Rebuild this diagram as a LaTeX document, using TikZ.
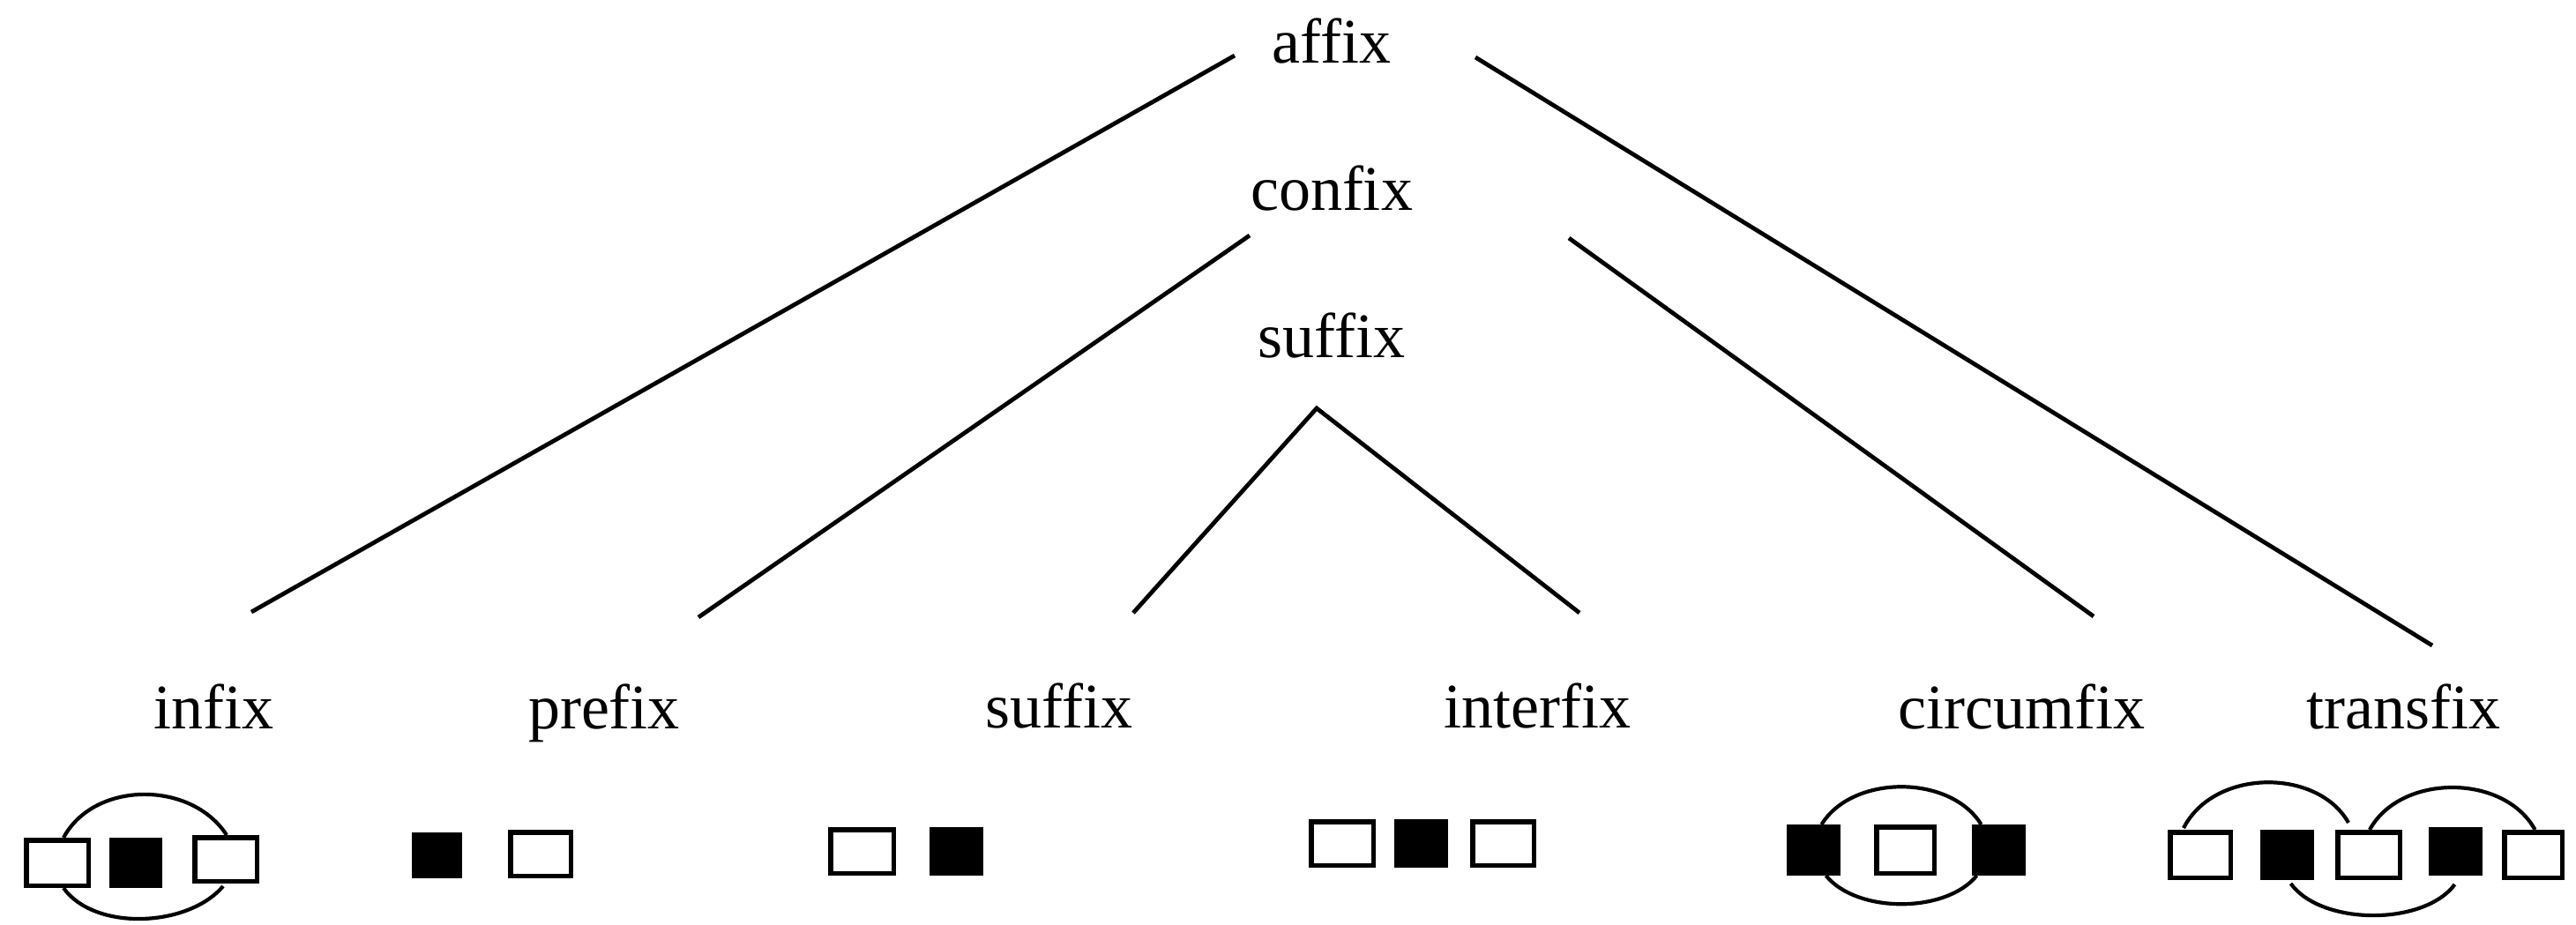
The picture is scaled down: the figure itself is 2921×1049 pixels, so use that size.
\documentclass[tikz,border=0pt]{standalone}
\usepackage{fontspec}
\setmainfont[Ligatures=NoCommon]{Liberation Serif}
\usetikzlibrary{calc}
\tikzset{
  lbl/.style={anchor=base, inner sep=0pt, font=\fontsize{72}{86}\selectfont},
  conn/.style={line width=4.8pt, line cap=butt},
  arc/.style={line width=4.2pt},
  wbox/.style={draw=black, line width=5.5pt, fill=white, inner sep=0pt},
  bbox/.style={draw=black, line width=5.5pt, fill=black, inner sep=0pt},
}
\newcommand\mybox[6]{%
  \node[#1, minimum width={(#4-#3-5.5)*1pt}, minimum height={(#6-#5-5.5)*1pt}]
    (#2) at ({(#3+#4)/2},{(#5+#6)/2}) {};}
\begin{document}
\begin{tikzpicture}[x=1pt,y=-1pt]
\useasboundingbox (0,0) rectangle (2921,1049);
% labels
\node[lbl] (affix) at (1510,72) {affix};
\node[lbl] (confix) at (1510,238) {confix};
\node[lbl] (suffixtop) at (1510,405) {suffix};
\node[lbl] (infix) at (242,826) {infix};
\node[lbl] (prefix) at (685,826) {prefix};
\node[lbl] (suffix) at (1201,825) {suffix};
\node[lbl] (interfix) at (1743,825) {interfix};
\node[lbl] (circumfix) at (2292,826) {circumfix};
\node[lbl] (transfix) at (2725,826) {transfix};
% connector ends
\coordinate (affixL) at (1400,63);
\coordinate (affixR) at (1673,65);
\coordinate (confixL) at (1417,267);
\coordinate (confixR) at (1779,270);
\coordinate (apex) at (1493,463);
\coordinate (infixT) at (285,694);
\coordinate (prefixT) at (792,700);
\coordinate (suffixT) at (1285,695);
\coordinate (interfixT) at (1791,695);
\coordinate (circumfixT) at (2374,699);
\coordinate (transfixT) at (2758,732);
\draw[conn] (affixL) -- (infixT);
\draw[conn] (affixR) -- (transfixT);
\draw[conn] (confixL) -- (prefixT);
\draw[conn] (confixR) -- (circumfixT);
\draw[conn, line join=miter] (suffixT) -- (apex) -- (interfixT);
% infix
\mybox{wbox}{i1}{27}{103}{950}{1007}
\mybox{bbox}{i2}{124}{184}{950}{1007}
\mybox{wbox}{i3}{218}{294}{947}{1002}
\draw[arc] ($(i1.north)+(7,0)$) .. controls +(35,-65) and +(-40,-62) .. ($(i3.north)+(1,0)$);
\draw[arc] ($(i1.south)+(7,0)$) .. controls +(35,49) and +(-40,47) .. ($(i3.south)+(-3,3)$);
% prefix
\mybox{bbox}{p1}{467}{524}{944}{996}
\mybox{wbox}{p2}{576}{650}{941}{996}
% suffix
\mybox{wbox}{s1}{939}{1016}{938}{993}
\mybox{bbox}{s2}{1054}{1115}{938}{993}
% interfix
\mybox{wbox}{n1}{1484}{1560}{929}{984}
\mybox{bbox}{n2}{1581}{1642}{929}{984}
\mybox{wbox}{n3}{1667}{1742}{929}{984}
% circumfix
\mybox{bbox}{c1}{2026}{2087}{935}{993}
\mybox{wbox}{c2}{2125}{2196}{935}{993}
\mybox{bbox}{c3}{2236}{2297}{935}{993}
\draw[arc] ($(c1.north)+(9,0)$) .. controls +(35,-57) and +(-35,-57) .. ($(c3.north)+(-20,0)$);
\draw[arc] ($(c1.south)+(14,0)$) .. controls +(35,43) and +(-35,43) .. ($(c3.south)+(-25,0)$);
% transfix
\mybox{wbox}{t1}{2458}{2532}{941}{998}
\mybox{bbox}{t2}{2563}{2624}{941}{998}
\mybox{wbox}{t3}{2648}{2724}{941}{998}
\mybox{bbox}{t4}{2754}{2815}{938}{993}
\mybox{wbox}{t5}{2837}{2908}{941}{998}
\draw[arc] ($(t1.north)+(-19,-2)$) .. controls +(35,-68) and +(-35,-62) .. ($(t3.north)+(-23,-8)$);
\draw[arc] ($(t3.north)+(1,0)$) .. controls +(35,-64) and +(-35,-64) .. ($(t5.north)+(2,0)$);
\draw[arc] ($(t2.south)+(4,4)$) .. controls +(35,48) and +(-35,47) .. ($(t4.south)+(-1,10)$);
\end{tikzpicture}
\end{document}
